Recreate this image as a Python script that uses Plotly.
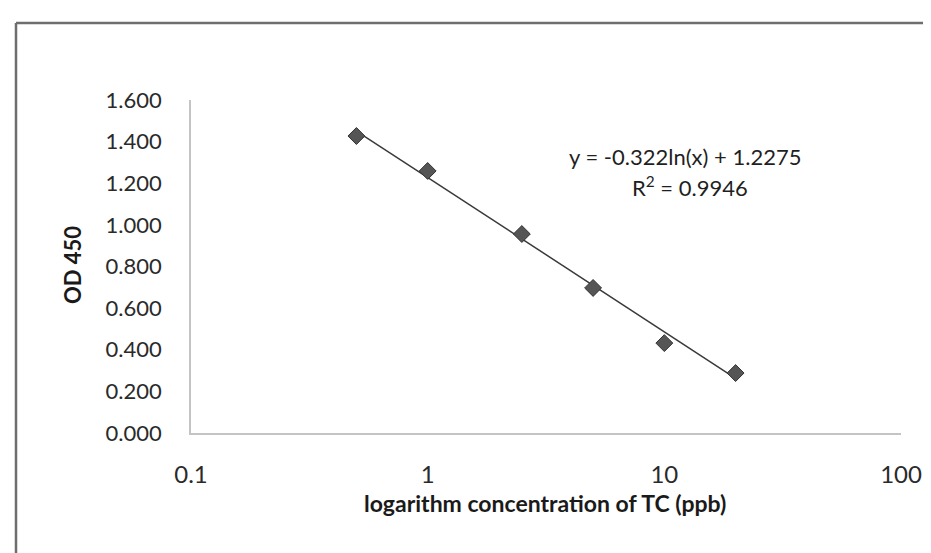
import numpy as np
import plotly.graph_objects as go

# Data
concentration_ppb = [0.5, 1, 2.5, 5, 10, 20]
od450 = [1.427, 1.259, 0.956, 0.697, 0.432, 0.288]

# Logarithmic trendline coefficients shown on the chart
trend_slope = -0.322
trend_intercept = 1.2275
r_squared = 0.9946

y_tickvals = [0.0, 0.2, 0.4, 0.6, 0.8, 1.0, 1.2, 1.4, 1.6]
x_tickvals = [0.1, 1, 10, 100]
x_ticktext = ["0.1", "1", "10", "100"]

x_title = "logarithm concentration of TC (ppb)"
y_title = "OD 450"

FONT = "Lato"
W, H = 931, 553
L, R, T, B = 183, 38, 92, 128
pw = W - L - R
ph = H - T - B

def px_to_paper_x(px):
    return (px - L) / pw

def px_to_paper_y(py):
    return (H - B - py) / ph

trend_x = np.geomspace(min(concentration_ppb), max(concentration_ppb), 60)
trend_y = trend_slope * np.log(trend_x) + trend_intercept

fig = go.Figure()
fig.add_trace(go.Scatter(
    x=trend_x, y=trend_y, mode="lines",
    line=dict(color="#3a3a3a", width=1.5),
    hoverinfo="skip", showlegend=False,
))
fig.add_trace(go.Scatter(
    x=concentration_ppb, y=od450, mode="markers",
    marker=dict(symbol="diamond", size=13, color="#555555",
                line=dict(color="#333333", width=1)),
    showlegend=False,
))

fig.update_layout(
    width=W, height=H,
    margin=dict(l=L, r=R, t=T, b=B, autoexpand=False),
    paper_bgcolor="white", plot_bgcolor="white",
    font=dict(family=FONT, size=20, color="#2a2a2a"),
    xaxis=dict(
        type="log", range=[-1, 2], automargin=False,
        tickvals=x_tickvals, ticktext=x_ticktext,
        showgrid=False, zeroline=False,
        showline=True, linecolor="#c4c4c4", linewidth=1.5,
        ticks="outside", ticklen=19, tickcolor="rgba(0,0,0,0)",
        tickfont=dict(family=FONT, size=24, color="#2a2a2a"),
    ),
    yaxis=dict(
        range=[0, 1.6], tickvals=y_tickvals, tickformat=".3f", automargin=False,
        showgrid=False, zeroline=False,
        showline=True, linecolor="#c4c4c4", linewidth=1.5,
        ticks="outside", ticklen=23, tickcolor="rgba(0,0,0,0)",
        tickfont=dict(family=FONT, size=22, color="#2a2a2a"),
    ),
    annotations=[
        dict(text=f"<b>{x_title}</b>", xref="paper", yref="paper",
             x=px_to_paper_x(537), y=px_to_paper_y(495),
             xanchor="center", yanchor="middle", showarrow=False,
             font=dict(family=FONT, size=23, color="#1a1a1a")),
        dict(text=f"<b>{y_title}</b>", xref="paper", yref="paper",
             x=px_to_paper_x(64), y=px_to_paper_y(257),
             xanchor="center", yanchor="middle", showarrow=False,
             textangle=-90,
             font=dict(family=FONT, size=22, color="#1a1a1a")),
        dict(text=f"y = {trend_slope}ln(x) + {trend_intercept}", xref="paper", yref="paper",
             x=px_to_paper_x(677), y=px_to_paper_y(148),
             xanchor="center", yanchor="middle", showarrow=False,
             font=dict(family=FONT, size=22, color="#1f1f1f")),
        dict(text=f"R<sup>2</sup> = {r_squared}", xref="paper", yref="paper",
             x=px_to_paper_x(682), y=px_to_paper_y(178),
             xanchor="center", yanchor="middle", showarrow=False,
             font=dict(family=FONT, size=22, color="#1f1f1f")),
    ],
    shapes=[
        # outer chart border: top, left (dark), right (faint)
        dict(type="line", xref="paper", yref="paper",
             x0=px_to_paper_x(8), x1=px_to_paper_x(931), y0=px_to_paper_y(15), y1=px_to_paper_y(15),
             line=dict(color="#6e6e6e", width=2.5)),
        dict(type="line", xref="paper", yref="paper",
             x0=px_to_paper_x(8), x1=px_to_paper_x(8), y0=px_to_paper_y(15), y1=px_to_paper_y(560),
             line=dict(color="#6e6e6e", width=2.5)),
        dict(type="line", xref="paper", yref="paper",
             x0=px_to_paper_x(928), x1=px_to_paper_x(928), y0=px_to_paper_y(15), y1=px_to_paper_y(560),
             line=dict(color="#e6e6e6", width=1)),
    ],
)

fig.write_html("out.html")
